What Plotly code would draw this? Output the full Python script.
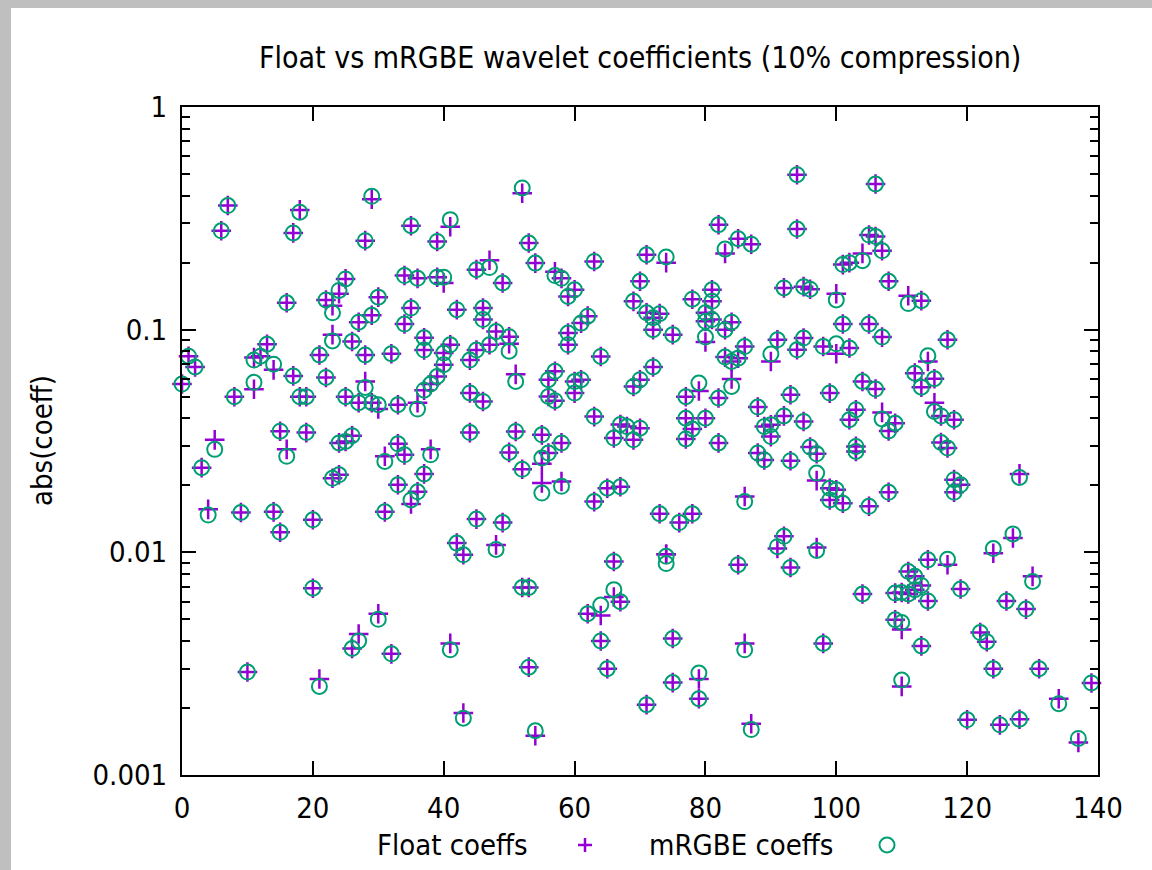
import glob
import os
import plotly.graph_objects as go

# ---------------- data ----------------
# index of the coefficient, float value, mRGBE value (absolute coefficients)
coeff_index = [
    0, 1, 2, 3, 4, 5, 6, 7, 8, 9, 10,
    11, 11, 12, 13, 14, 14, 15, 15, 16, 16, 17, 17, 18, 18, 19, 19, 20, 20,
    21, 21, 22, 22, 23, 23, 23, 24, 24, 24, 25, 25, 25, 26, 26, 26, 27, 27, 27,
    28, 28, 28, 29, 29, 29, 30, 30, 30, 31, 31, 32, 32, 33, 33, 33, 34, 34, 34,
    35, 35, 35, 36, 36, 36, 37, 37, 37, 37, 38, 38, 39, 39, 39, 40, 40, 40,
    41, 41, 41, 42, 42, 43, 43, 44, 44, 44, 45, 45, 45, 46, 46, 46, 47, 47,
    48, 48, 49, 49, 50, 50, 50, 51, 51, 52, 52, 52, 53, 53, 53, 54, 54,
    55, 55, 55, 56, 56, 56, 57, 57, 57, 58, 58, 58, 59, 59, 59, 60, 60, 60,
    61, 61, 62, 62, 63, 63, 63, 64, 64, 64, 65, 65, 66, 66, 66, 67, 67, 67, 68,
    69, 69, 69, 70, 70, 70, 71, 71, 71, 72, 72, 72, 73, 73, 74, 74, 74,
    75, 75, 75, 76, 77, 77, 77, 78, 78, 78, 79, 79, 79, 80, 80, 80, 80,
    81, 81, 81, 82, 82, 82, 83, 83, 83, 84, 84, 84, 85, 85, 85, 86, 86, 86,
    87, 87, 88, 88, 89, 89, 90, 90, 90, 91, 91, 92, 92, 92, 93, 93, 93,
    94, 94, 94, 95, 95, 95, 96, 96, 97, 97, 97, 98, 98, 99, 99, 99,
    100, 100, 100, 101, 101, 101, 102, 102, 102, 103, 103, 103, 104, 104, 104,
    105, 105, 105, 106, 106, 106, 107, 107, 107, 108, 108, 108, 109, 109, 109,
    110, 110, 110, 111, 111, 111, 112, 112, 112, 113, 113, 113, 113,
    114, 114, 114, 115, 115, 116, 116, 117, 117, 117, 118, 118, 118, 119, 119,
    120, 122, 123, 124, 124, 125, 126, 127, 128, 128, 129, 130, 131, 134, 137, 139,
]

float_coeffs = [
    0.057, 0.076, 0.068, 0.024, 0.0156, 0.032, 0.278, 0.361, 0.050, 0.0151, 0.0029,
    0.075, 0.054, 0.076, 0.086, 0.066, 0.0152, 0.035, 0.0123, 0.132, 0.029, 0.272, 0.062, 0.345, 0.050, 0.050, 0.0345, 0.014, 0.0069,
    0.077, 0.0027, 0.136, 0.061, 0.128, 0.095, 0.0215, 0.145, 0.031, 0.0223, 0.169, 0.050, 0.0315, 0.0885, 0.0334, 0.0037, 0.108, 0.047, 0.0043,
    0.251, 0.077, 0.0585, 0.385, 0.116, 0.047, 0.140, 0.044, 0.0053, 0.027, 0.0152, 0.078, 0.0035, 0.046, 0.0307, 0.0201, 0.175, 0.106, 0.0274,
    0.293, 0.125, 0.0165, 0.170, 0.047, 0.0187, 0.092, 0.081, 0.0535, 0.0225, 0.057, 0.029, 0.249, 0.172, 0.0616, 0.162, 0.0785, 0.0696,
    0.290, 0.0855, 0.0039, 0.123, 0.011, 0.00975, 0.0019, 0.073, 0.052, 0.0345, 0.186, 0.081, 0.0141, 0.125, 0.111, 0.0476, 0.205, 0.0855,
    0.098, 0.0108, 0.162, 0.0136, 0.093, 0.0865, 0.0281, 0.063, 0.0349, 0.410, 0.0236, 0.00695, 0.245, 0.00695, 0.00305, 0.199, 0.0015,
    0.0337, 0.025, 0.0205, 0.0596, 0.0501, 0.0279, 0.182, 0.065, 0.048, 0.170, 0.031, 0.0208, 0.141, 0.0965, 0.0855, 0.151, 0.0585, 0.0519,
    0.107, 0.0596, 0.115, 0.0053, 0.2025, 0.0407, 0.0169, 0.0758, 0.0052, 0.0040, 0.0194, 0.0030, 0.0326, 0.0091, 0.0063, 0.0375, 0.0197, 0.0060, 0.0367,
    0.134, 0.0556, 0.032, 0.165, 0.0596, 0.0361, 0.217, 0.119, 0.00207, 0.113, 0.100, 0.068, 0.118, 0.0149, 0.200, 0.0098, 0.0098,
    0.095, 0.0041, 0.0026, 0.0136, 0.050, 0.040, 0.0323, 0.137, 0.0358, 0.0149, 0.053, 0.0027, 0.0022, 0.119, 0.109, 0.088, 0.040,
    0.151, 0.134, 0.111, 0.296, 0.0493, 0.031, 0.220, 0.100, 0.0753, 0.108, 0.072, 0.060, 0.256, 0.0745, 0.0088, 0.084, 0.0178, 0.0039,
    0.242, 0.0017, 0.0449, 0.0279, 0.0367, 0.026, 0.072, 0.0374, 0.0331, 0.090, 0.0104, 0.154, 0.041, 0.0118, 0.051, 0.0258, 0.00855,
    0.4965, 0.283, 0.0812, 0.156, 0.0917, 0.0387, 0.152, 0.0297, 0.0277, 0.021, 0.0105, 0.084, 0.0039, 0.0519, 0.0194, 0.0172,
    0.145, 0.078, 0.0191, 0.196, 0.106, 0.0166, 0.200, 0.0827, 0.0394, 0.0437, 0.0299, 0.0284, 0.220, 0.0585, 0.0065,
    0.266, 0.106, 0.0161, 0.451, 0.262, 0.0541, 0.226, 0.0926, 0.0425, 0.165, 0.0351, 0.0186, 0.038, 0.00656, 0.00498,
    0.0066, 0.0045, 0.0025, 0.142, 0.0082, 0.0065, 0.0638, 0.0078, 0.0068, 0.135, 0.0552, 0.0071, 0.0038,
    0.072, 0.00925, 0.00605, 0.0602, 0.047, 0.041, 0.0311, 0.0901, 0.0294, 0.0088, 0.0394, 0.0212, 0.0186, 0.0201, 0.00684,
    0.00177, 0.00436, 0.00397, 0.0099, 0.0030, 0.00168, 0.00605, 0.0116, 0.0225, 0.00178, 0.00556, 0.0078, 0.0030, 0.0022, 0.0014, 0.00259,
]

mrgbe_coeffs = [
    0.057, 0.076, 0.068, 0.024, 0.0147, 0.029, 0.278, 0.361, 0.050, 0.0151, 0.0029,
    0.073, 0.058, 0.076, 0.086, 0.070, 0.0152, 0.035, 0.0123, 0.132, 0.027, 0.272, 0.062, 0.337, 0.050, 0.050, 0.0345, 0.014, 0.0069,
    0.077, 0.0025, 0.136, 0.061, 0.119, 0.089, 0.0215, 0.150, 0.031, 0.0223, 0.169, 0.050, 0.0315, 0.0885, 0.0334, 0.0037, 0.108, 0.047, 0.0040,
    0.251, 0.077, 0.055, 0.397, 0.116, 0.047, 0.140, 0.046, 0.0050, 0.0256, 0.0152, 0.078, 0.0035, 0.046, 0.0307, 0.0201, 0.175, 0.106, 0.0274,
    0.293, 0.125, 0.0172, 0.170, 0.044, 0.0187, 0.092, 0.081, 0.0535, 0.0225, 0.057, 0.0274, 0.249, 0.172, 0.0616, 0.172, 0.0785, 0.0696,
    0.312, 0.0855, 0.00365, 0.123, 0.011, 0.00975, 0.0018, 0.073, 0.052, 0.0345, 0.186, 0.081, 0.0141, 0.125, 0.111, 0.0476, 0.190, 0.0855,
    0.098, 0.0103, 0.162, 0.0136, 0.093, 0.080, 0.0281, 0.0585, 0.0349, 0.433, 0.0236, 0.00695, 0.245, 0.00695, 0.00305, 0.199, 0.00158,
    0.0337, 0.0265, 0.01845, 0.0596, 0.0501, 0.0279, 0.175, 0.065, 0.048, 0.170, 0.031, 0.0198, 0.141, 0.0965, 0.0855, 0.151, 0.0585, 0.0519,
    0.107, 0.0596, 0.115, 0.0053, 0.2025, 0.0407, 0.0169, 0.0758, 0.0058, 0.0040, 0.0194, 0.0030, 0.0326, 0.0091, 0.0068, 0.0375, 0.0197, 0.0060, 0.0367,
    0.134, 0.0556, 0.032, 0.165, 0.0596, 0.0361, 0.217, 0.119, 0.00207, 0.113, 0.100, 0.068, 0.118, 0.0149, 0.212, 0.0096, 0.0089,
    0.095, 0.0041, 0.0026, 0.0136, 0.050, 0.040, 0.0323, 0.137, 0.0358, 0.0149, 0.0576, 0.00287, 0.0022, 0.119, 0.109, 0.0926, 0.040,
    0.151, 0.134, 0.111, 0.296, 0.0493, 0.031, 0.230, 0.100, 0.0753, 0.108, 0.072, 0.0556, 0.256, 0.0745, 0.0088, 0.084, 0.0169, 0.00365,
    0.242, 0.0016, 0.0449, 0.0279, 0.0367, 0.026, 0.0777, 0.0374, 0.0331, 0.090, 0.0106, 0.154, 0.041, 0.0118, 0.051, 0.0258, 0.00855,
    0.4965, 0.283, 0.0812, 0.156, 0.0917, 0.0387, 0.152, 0.0297, 0.0277, 0.0227, 0.0102, 0.084, 0.0039, 0.0519, 0.0194, 0.0172,
    0.136, 0.0864, 0.0191, 0.196, 0.106, 0.0166, 0.200, 0.0827, 0.0394, 0.0437, 0.0299, 0.0284, 0.204, 0.0585, 0.0065,
    0.266, 0.106, 0.0161, 0.451, 0.262, 0.0541, 0.226, 0.0926, 0.0397, 0.165, 0.0351, 0.0186, 0.038, 0.00656, 0.00498,
    0.0066, 0.00484, 0.00267, 0.131, 0.0082, 0.0065, 0.0638, 0.0078, 0.0068, 0.135, 0.0552, 0.0071, 0.0038,
    0.0763, 0.00925, 0.00605, 0.0602, 0.0429, 0.041, 0.0311, 0.0901, 0.0294, 0.0093, 0.0394, 0.0212, 0.0186, 0.0201, 0.00684,
    0.00177, 0.00436, 0.00397, 0.0104, 0.0030, 0.00168, 0.00605, 0.0121, 0.0217, 0.00178, 0.00556, 0.0074, 0.0030, 0.00209, 0.00146, 0.00259,
]

x_tick_values = [0, 20, 40, 60, 80, 100, 120, 140]
y_tick_values = [0.001, 0.01, 0.1, 1]
y_tick_labels = ["0.001", "0.01", "0.1", "1"]

TITLE = "Float vs mRGBE wavelet coefficients (10% compression)"
Y_TITLE = "abs(coeff)"
SERIES_NAMES = ["Float coeffs", "mRGBE coeffs"]

FLOAT_COLOR = "#9400d3"
MRGBE_COLOR = "#009e73"


# ---------------- font selection ----------------
def pick_font():
    dirs = ["/usr/share/fonts", "/usr/local/share/fonts",
            os.path.expanduser("~/.fonts"), os.path.expanduser("~/.local/share/fonts")]
    names = []
    for d in dirs:
        for f in glob.glob(os.path.join(d, "**", "*"), recursive=True):
            names.append(os.path.basename(f).lower())
    if any("dejavusanscondensed" in n for n in names):
        return "DejaVu Sans Condensed", 29, 30
    if any("liberationsansnarrow" in n for n in names):
        return "Liberation Sans Narrow", 33, 34
    return "DejaVu Sans", 26, 27


FONT, FSIZE, TSIZE = pick_font()

# ---------------- figure ----------------
L, R, T, B = 182, 54, 107, 95
W, H = 1152, 870
PW, PH = W - L - R, H - T - B


def px_x(px):
    return (px - L) / PW


def px_y(py):
    return (H - B - py) / PH


fig = go.Figure()
fig.add_trace(go.Scatter(
    x=coeff_index, y=float_coeffs, mode="markers", name=SERIES_NAMES[0],
    cliponaxis=False,
    marker=dict(symbol="cross-thin", size=14, color=FLOAT_COLOR,
                line=dict(width=2.5, color=FLOAT_COLOR)),
))
fig.add_trace(go.Scatter(
    x=coeff_index, y=mrgbe_coeffs, mode="markers", name=SERIES_NAMES[1],
    cliponaxis=False,
    marker=dict(symbol="circle-open", size=15, color=MRGBE_COLOR,
                line=dict(width=2, color=MRGBE_COLOR)),
))

minor_vals = [k * 10.0 ** e for e in (-3, -2, -1) for k in range(2, 10)]

axis_common = dict(
    showline=True, linecolor="#000000", linewidth=2, mirror="allticks",
    ticks="inside", tickcolor="#000000", tickwidth=2, ticklen=14,
    showgrid=False, zeroline=False,
    tickfont=dict(family=FONT, size=FSIZE, color="#000000"),
)

fig.update_xaxes(
    range=[0, 140], tickmode="array", tickvals=x_tick_values,
    ticklabelstandoff=6,
    **axis_common,
)
fig.update_yaxes(
    type="log", range=[-3, 0], tickmode="array",
    tickvals=y_tick_values, ticktext=y_tick_labels,
    ticklabelstandoff=7,
    minor=dict(ticks="inside", tickmode="array", tickvals=minor_vals,
               ticklen=8, tickwidth=2, tickcolor="#000000", showgrid=False),
    **axis_common,
)

annotations = [
    dict(text=TITLE, xref="paper", yref="paper", x=0.5, y=px_y(58),
         xanchor="center", yanchor="middle", showarrow=False,
         font=dict(family=FONT, size=TSIZE, color="#000000")),
    dict(text=Y_TITLE, xref="paper", yref="paper", x=px_x(42), y=px_y(441),
         xanchor="center", yanchor="middle", textangle=-90, showarrow=False,
         font=dict(family=FONT, size=FSIZE, color="#000000")),
    dict(text=SERIES_NAMES[0], xref="paper", yref="paper", x=px_x(530), y=px_y(845),
         xanchor="right", yanchor="middle", showarrow=False,
         font=dict(family=FONT, size=FSIZE, color="#000000")),
    dict(text=SERIES_NAMES[1], xref="paper", yref="paper", x=px_x(835), y=px_y(845),
         xanchor="right", yanchor="middle", showarrow=False,
         font=dict(family=FONT, size=FSIZE, color="#000000")),
]

shapes = [
    # legend samples
    dict(type="line", xref="paper", yref="paper", xsizemode="pixel", ysizemode="pixel",
         xanchor=px_x(585), yanchor=px_y(845), x0=-7, x1=7, y0=0, y1=0,
         line=dict(color=FLOAT_COLOR, width=2.5)),
    dict(type="line", xref="paper", yref="paper", xsizemode="pixel", ysizemode="pixel",
         xanchor=px_x(585), yanchor=px_y(845), x0=0, x1=0, y0=-7, y1=7,
         line=dict(color=FLOAT_COLOR, width=2.5)),
    dict(type="circle", xref="paper", yref="paper", xsizemode="pixel", ysizemode="pixel",
         xanchor=px_x(887), yanchor=px_y(845), x0=-7.5, x1=7.5, y0=-7.5, y1=7.5,
         line=dict(color=MRGBE_COLOR, width=2)),
    # grey window border (top and left)
    dict(type="rect", xref="paper", yref="paper", layer="above",
         x0=-0.3, x1=1.2, y0=px_y(8), y1=1.3, fillcolor="#bfbfbf", line=dict(width=0)),
    dict(type="rect", xref="paper", yref="paper", layer="above",
         x0=-0.3, x1=px_x(11), y0=-0.3, y1=1.3, fillcolor="#bfbfbf", line=dict(width=0)),
]

fig.update_layout(
    width=W, height=H, autosize=False,
    margin=dict(l=L, r=R, t=T, b=B, pad=0),
    paper_bgcolor="#ffffff", plot_bgcolor="#ffffff",
    showlegend=False,
    annotations=annotations, shapes=shapes,
    font=dict(family=FONT, size=FSIZE, color="#000000"),
)

fig.write_html("out.html")
